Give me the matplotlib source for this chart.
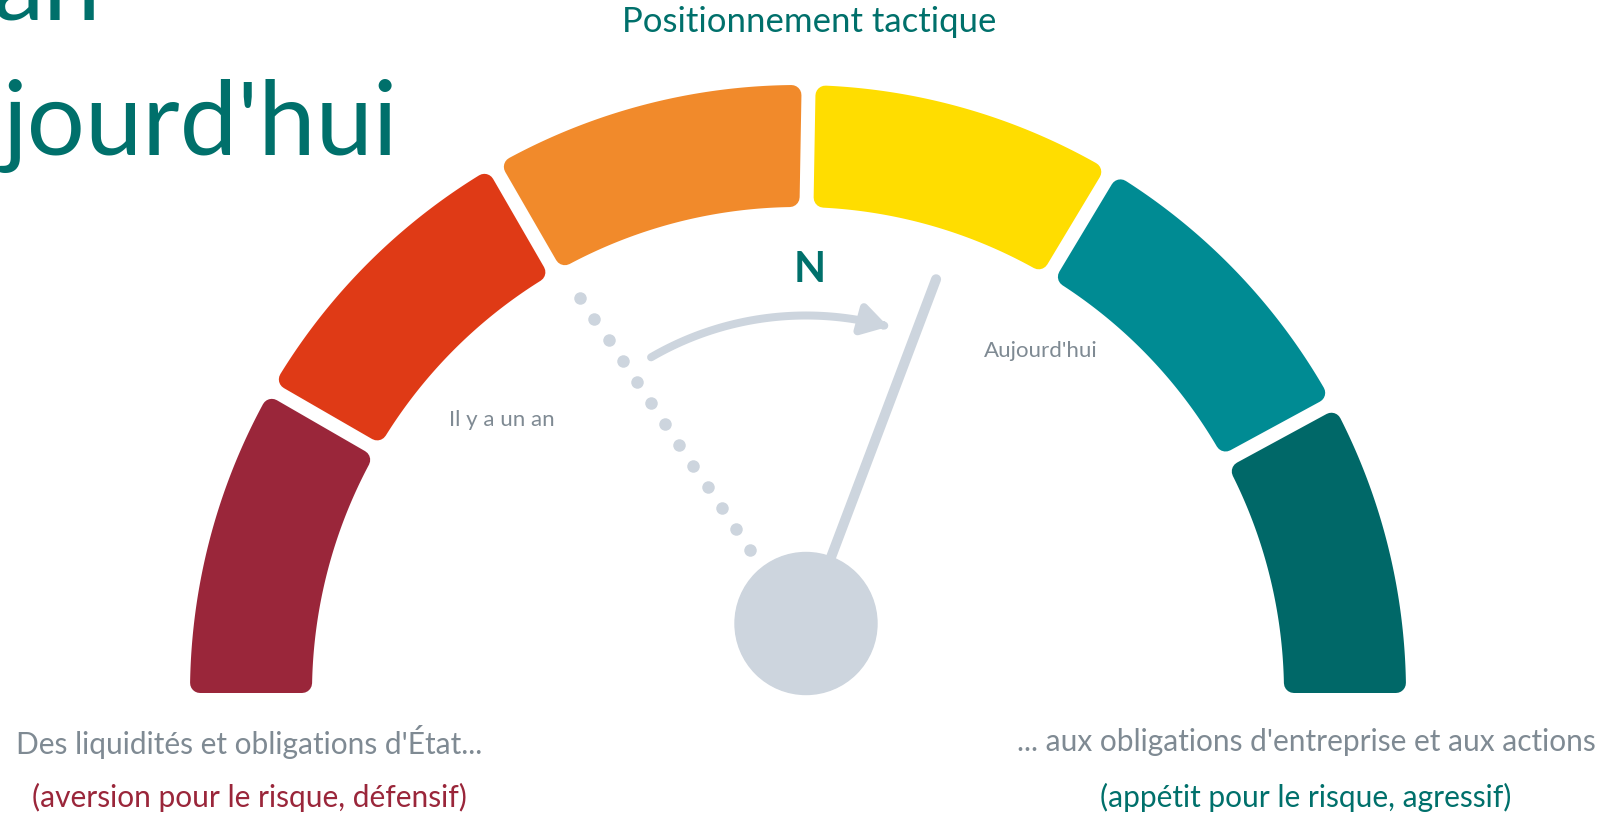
import numpy as np
import matplotlib.pyplot as plt
from matplotlib.patches import Polygon, Circle, FancyArrowPatch
from matplotlib.path import Path

plt.rcParams["font.family"] = ["Lato", "DejaVu Sans"]

# zones du compteur, de défensif (gauche) à agressif (droite)
zone_colors = ["#9A263A", "#DF3A16", "#F18A2B", "#FFDD00", "#008B93", "#006868"]
n_zones = len(zone_colors)

# position de l'aiguille sur l'échelle 0..6
position_old = 1.87     # il y a un an
position_now = 3.69     # aujourd'hui

title = "Positionnement tactique"
heading = ["an", "jourd'hui"]   # fin du titre coupé par le bord
label_old = "Il y a un an"
label_now = "Aujourd'hui"
mark = "N"
left_text = ["Des liquidités et obligations d'État...", "(aversion pour le risque, défensif)"]
right_text = ["... aux obligations d'entreprise et aux actions", "(appétit pour le risque, agressif)"]

W, H = 1619, 814
PT = 72 / 100  # px -> points

TEAL = "#00706B"
GREY = "#7F8A93"
NEEDLE = "#CDD5DE"

# géométrie (pixels)
cx, cy = 798, 693
r_out, r_in = 608, 486
gap, rc = 14, 10
bounds = [180, 150, 120, 89, 59, 28.5, 0]
hub_x, hub_y, hub_r = 806, 623.5, 71


def to_angle(v):
    return 180 - v / n_zones * 180


def segment(a1, a2, off1, off2, n=80):
    ro = r_out - rc
    ri = r_in + rc
    t_out = np.linspace(a1 - np.degrees(np.arcsin(off1 / ro)),
                        a2 + np.degrees(np.arcsin(off2 / ro)), n)
    t_in = np.linspace(a2 + np.degrees(np.arcsin(off2 / ri)),
                       a1 - np.degrees(np.arcsin(off1 / ri)), n)
    xs = np.concatenate([cx + ro * np.cos(np.radians(t_out)), cx + ri * np.cos(np.radians(t_in))])
    ys = np.concatenate([cy - ro * np.sin(np.radians(t_out)), cy - ri * np.sin(np.radians(t_in))])
    return np.column_stack([xs, ys])


fig = plt.figure(figsize=(W / 100, H / 100), dpi=100)
ax = fig.add_axes([0, 0, 1, 1])
ax.set_xlim(0, W)
ax.set_ylim(H, 0)
ax.axis("off")

for i, c in enumerate(zone_colors):
    a1, a2 = bounds[i], bounds[i + 1]
    off1 = rc if i == 0 else gap / 2 + rc
    off2 = rc if i == n_zones - 1 else gap / 2 + rc
    ax.add_patch(Polygon(segment(a1, a2, off1, off2), closed=True, facecolor=c,
                         edgecolor=c, linewidth=2 * rc * PT, joinstyle="round"))

# ancienne position : pointillés
a = np.radians(to_angle(position_old))
r_dots = np.linspace(88, 392, 13)
ax.scatter(hub_x - 7 + r_dots * np.cos(a), hub_y - r_dots * np.sin(a),
           s=(12.5 * PT) ** 2, color=NEEDLE, linewidths=0, zorder=3)

# flèche courbe
t = np.radians(np.linspace(120.2, 74.5, 60))
arc = np.column_stack([hub_x + 308 * np.cos(t), hub_y - 308 * np.sin(t)])
ax.add_patch(FancyArrowPatch(path=Path(arc), arrowstyle="-|>,head_length=0.75,head_width=0.45",
                             mutation_scale=20, color=NEEDLE, lw=8 * PT, capstyle="round",
                             shrinkA=0, shrinkB=0, zorder=3))

# aiguille actuelle
a = np.radians(to_angle(position_now))
ax.plot([hub_x, hub_x + 368 * np.cos(a)], [hub_y, hub_y - 368 * np.sin(a)],
        color=NEEDLE, lw=10 * PT, solid_capstyle="round", zorder=4)
ax.add_patch(Circle((hub_x, hub_y), hub_r, color=NEEDLE, zorder=5))

# textes
ax.text(809.5, 22, title, ha="center", va="center", fontsize=25, color=TEAL)
ax.text(101, 20, heading[0], ha="right", va="baseline", fontsize=74, color=TEAL)
ax.text(398, 155, heading[1], ha="right", va="baseline", fontsize=74, color=TEAL)
ax.text(809.5, 270, mark, ha="center", va="center", fontsize=30, fontweight="bold", color=TEAL)
ax.text(502, 420, label_old, ha="center", va="center", fontsize=16, color=GREY)
ax.text(1041, 351, label_now, ha="center", va="center", fontsize=16, color=GREY)

ax.text(249, 742, left_text[0], ha="center", va="center", fontsize=21.5, color=GREY)
ax.text(249, 797, left_text[1], ha="center", va="center", fontsize=21.5, color="#9A263A")
ax.text(1306, 742, right_text[0], ha="center", va="center", fontsize=21.5, color=GREY)
ax.text(1306, 797, right_text[1], ha="center", va="center", fontsize=21.5, color=TEAL)

fig.savefig("out.png", dpi=100)
